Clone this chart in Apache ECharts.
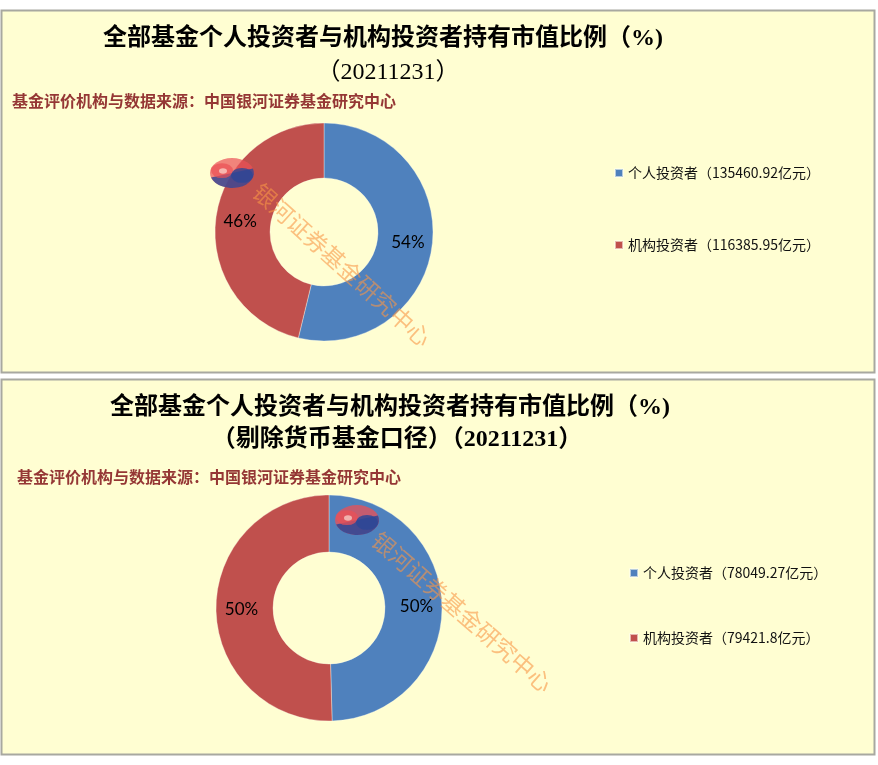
<!DOCTYPE html>
<html>
<head>
<meta charset="utf-8">
<script src="https://cdn.jsdelivr.net/npm/echarts@6/dist/echarts.min.js"></script>
<style>
html,body{margin:0;padding:0;background:#ffffff;}
#main{width:878px;height:765px;}
</style>
</head>
<body>
<div id="main"></div>
<script>
const categories = ['个人投资者', '机构投资者'];
const allFundValues = [135460.92, 116385.95];
const exMoneyValues = [78049.27, 79421.8];
const titleLine1 = '全部基金个人投资者与机构投资者持有市值比例（%)';
const topTitleLine2 = '（20211231）';
const bottomTitleLine2 = '（剔除货币基金口径）（20211231）';
const sourceText = '基金评价机构与数据来源：中国银河证券基金研究中心';
const watermarkText = '银河证券基金研究中心';
const unit = '亿元';

const BLUE = '#4F81BD', RED = '#C0504D';
const BG = '#FFFED2';
const TITLE_FONT = "'Liberation Serif','Noto Sans CJK SC',serif";
const CJK = "'Noto Sans CJK SC',sans-serif";

function makeNames(vals){ return categories.map((c,i)=> c + '（' + vals[i] + unit + '）'); }
const topNames = makeNames(allFundValues);
const botNames = makeNames(exMoneyValues);

function pieData(names, vals){
  return names.map((n,i)=>({name:n, value:vals[i], itemStyle:{color: i===0?BLUE:RED}}));
}

function logo(cx, cy, redA, blueA){
  const Z = 50;
  return {
    type:'group', x:cx, y:cy, scaleY:0.68,
    children:[
      {type:'circle', z:Z, shape:{cx:0,cy:0,r:22}, style:{fill:'rgba(235,80,85,'+redA+')'}},
      {type:'sector', z:Z+1, shape:{cx:0,cy:0,r:22,r0:0,startAngle:-Math.PI*0.1,endAngle:Math.PI*0.9}, style:{fill:'rgba(45,70,150,'+blueA+')'}},
      {type:'circle', z:Z+2, shape:{cx:-10,cy:-3.5,r:11}, style:{fill:'rgba(235,80,85,'+redA+')'}},
      {type:'circle', z:Z+2, shape:{cx:10,cy:3.5,r:11}, style:{fill:'rgba(45,70,150,'+blueA+')'}},
      {type:'circle', z:Z+3, shape:{cx:-9,cy:-3,r:4}, style:{fill:'rgba(255,255,240,0.55)'}}
    ]
  };
}
function watermark(cx, cy, angDeg){
  return {
    type:'text', x:cx, y:cy, rotation:-angDeg*Math.PI/180, z:60,
    style:{text:watermarkText, fill:'rgba(248,150,70,0.6)', font:"23px 'Noto Sans CJK SC'", align:'center', verticalAlign:'middle'}
  };
}
function textEl(x, y, text, font, fill, align){
  return {type:'text', x:x, y:y, z:40, style:{text:text, font:font, fill:fill, align:align||'center', verticalAlign:'middle'}};
}

const chart = echarts.init(document.getElementById('main'), null, {renderer:'canvas'});
const labelCfg = {
  show:true, position:'inside', color:'#000', fontSize:17, fontFamily:"Lato,'Open Sans',sans-serif",
  formatter: p => Math.round(p.percent) + '%'
};
const option = {
  backgroundColor:'#ffffff',
  animation:false,
  legend:[
    {data:topNames, orient:'vertical', left:609, top:160, itemWidth:8, itemHeight:8, icon:'rect', itemGap:56, selectedMode:false,
     textStyle:{fontSize:14, lineHeight:16, color:'#111', fontFamily:CJK}},
    {data:botNames, orient:'vertical', left:624, top:560, itemWidth:8, itemHeight:8, icon:'rect', itemGap:49, selectedMode:false,
     textStyle:{fontSize:14, lineHeight:16, color:'#111', fontFamily:CJK}}
  ],
  series:[
    {type:'pie', center:[324,232], radius:[54,109], startAngle:90, clockwise:true, silent:true,
     itemStyle:{borderColor:'rgba(255,255,240,0.6)', borderWidth:0.6},
     label:labelCfg, labelLine:{show:false}, data:pieData(topNames, allFundValues)},
    {type:'pie', center:[329,608], radius:[56,113], startAngle:90, clockwise:true, silent:true,
     itemStyle:{borderColor:'rgba(255,255,240,0.6)', borderWidth:0.6},
     label:labelCfg, labelLine:{show:false}, data:pieData(botNames, exMoneyValues)}
  ],
  graphic:[
    {type:'rect', z:-10, shape:{x:1.5,y:10.5,width:873,height:362}, style:{fill:BG, stroke:'#A8A8A0', lineWidth:2}},
    {type:'rect', z:-10, shape:{x:1.5,y:379.5,width:873,height:375}, style:{fill:BG, stroke:'#A8A8A0', lineWidth:2}},
    textEl(383, 39, titleLine1, "bold 24px " + TITLE_FONT, '#000'),
    textEl(388, 73, topTitleLine2, "24px " + TITLE_FONT, '#000'),
    textEl(12, 101, sourceText, "bold 16px " + CJK, '#953735', 'left'),
    textEl(390, 408, titleLine1, "bold 24px " + TITLE_FONT, '#000'),
    textEl(397, 440, bottomTitleLine2, "bold 24px " + TITLE_FONT, '#000'),
    textEl(17, 477, sourceText, "bold 16px " + CJK, '#953735', 'left'),
    logo(232, 173, 0.7, 0.8),
    logo(357, 520, 0.75, 0.85),
    watermark(342, 265, 42),
    watermark(462, 612, 41)
  ]
};
chart.setOption(option);
</script>
</body>
</html>
